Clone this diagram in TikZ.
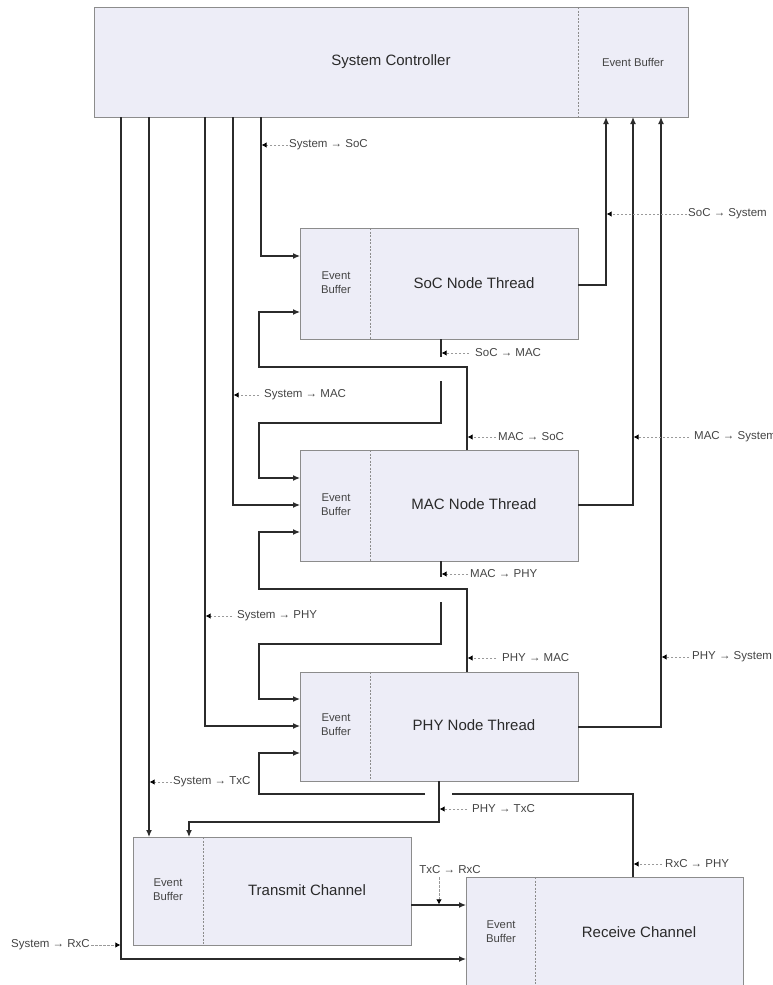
\documentclass[tikz,border=0pt]{standalone}
\usepackage{fontspec}
\setmainfont{Liberation Sans}
\usetikzlibrary{arrows.meta}
\definecolor{boxfill}{HTML}{EDEDF7}
\definecolor{boxline}{HTML}{8C8C8C}
\definecolor{wire}{HTML}{2B2B2B}
\definecolor{leadc}{HTML}{9A9A9A}
\definecolor{txt}{HTML}{2A2A2A}
\definecolor{lbl}{HTML}{444444}
\begin{document}
\begin{tikzpicture}[x=1pt,y=-1pt,
 block/.style={draw=boxline, fill=boxfill, line width=0.8pt, anchor=north west, inner sep=0pt, outer sep=0pt},
 divider/.style={draw=boxline, line width=0.7pt, dash pattern=on 2pt off 1.5pt},
 title/.style={font=\fontsize{15}{18}\selectfont, text=txt, inner sep=0pt},
 buf/.style={font=\fontsize{11.3}{14}\selectfont, text=lbl, align=center, inner sep=0pt},
 wirestyle/.style={draw=wire, line width=1.2pt, -{Latex[length=7pt,width=6pt]}},
 tag/.style={font=\fontsize{11.5}{13}\selectfont, text=lbl, inner sep=0pt},
 leader/.style={draw=leadc, line width=0.8pt, dash pattern=on 2.5pt off 1.5pt, -{Latex[length=5pt,width=5.5pt,color=black]}}
]
\useasboundingbox (0,0) rectangle (772,985);
\fill[white] (0,0) rectangle (772,985);
\clip (0,0) rectangle (772,985);

% column coordinates
\coordinate (cA) at (261,0);
\coordinate (cB) at (233,0);
\coordinate (cC) at (205,0);
\coordinate (cD) at (149,0);
\coordinate (cE) at (121,0);
\coordinate (cF) at (189,0);
\coordinate (cR1) at (606,0);
\coordinate (cR2) at (633,0);
\coordinate (cR3) at (661,0);
\coordinate (cM1) at (441,0);
\coordinate (cM2) at (467,0);
\coordinate (cP) at (439,0);

% blocks
\node[block, minimum width=594pt, minimum height=110pt] (sys) at (94,7) {};
\node[block, minimum width=278pt, minimum height=111pt] (soc) at (300,228) {};
\node[block, minimum width=278pt, minimum height=111pt] (mac) at (300,450) {};
\node[block, minimum width=278pt, minimum height=109pt] (phy) at (300,672) {};
\node[block, minimum width=278pt, minimum height=108pt] (txc) at (133,837) {};
\node[block, minimum width=277pt, minimum height=130pt] (rxc) at (466,877) {};

% dividers
\draw[divider] ([xshift=484pt]sys.north west) -- ([xshift=484pt]sys.south west);
\draw[divider] ([xshift=70pt]soc.north west) -- ([xshift=70pt]soc.south west);
\draw[divider] ([xshift=70pt]mac.north west) -- ([xshift=70pt]mac.south west);
\draw[divider] ([xshift=70pt]phy.north west) -- ([xshift=70pt]phy.south west);
\draw[divider] ([xshift=70pt]txc.north west) -- ([xshift=70pt]txc.south west);
\draw[divider] ([xshift=69pt]rxc.north west) -- ([xshift=69pt]rxc.south west);

% block texts
\node[title] (sysT) at (391,62) {System Controller};
\node[buf] (sysB) at (633,62) {Event Buffer};
\node[title] (socT) at (474,283) {SoC Node Thread};
\node[buf] (socB) at (336,283) {Event\\Buffer};
\node[title] (macT) at (474,504) {MAC Node Thread};
\node[buf] (macB) at (336,505) {Event\\Buffer};
\node[title] (phyT) at (474,725) {PHY Node Thread};
\node[buf] (phyB) at (336,725) {Event\\Buffer};
\node[title] (txcT) at (307,890) {Transmit Channel};
\node[buf] (txcB) at (168,890) {Event\\Buffer};
\node[title] (rxcT) at (639,932) {Receive Channel};
\node[buf] (rxcB) at (501,932) {Event\\Buffer};

% connectors from the system controller
\draw[wirestyle] (cA |- sys.south) |- (soc.west |- 0,256);
\draw[wirestyle] (cB |- sys.south) |- (mac.west |- 0,505);
\draw[wirestyle] (cC |- sys.south) |- (phy.west |- 0,726);
\draw[wirestyle] (cD |- sys.south) -- (cD |- txc.north);
\draw[wirestyle] (cE |- sys.south) |- (rxc.west |- 0,959);
% connectors to the system controller
\draw[wirestyle] (soc.east |- 0,285) -| (cR1 |- sys.south);
\draw[wirestyle] (mac.east |- 0,505) -| (cR2 |- sys.south);
\draw[wirestyle] (phy.east |- 0,727) -| (cR3 |- sys.south);
% thread to thread
\draw[wirestyle] (cM1 |- soc.south) -- (441,357) (441,381) -- (441,423) -| (259,478) -- (mac.west |- 0,478);
\draw[wirestyle] (cM2 |- mac.north) -- (467,367) -| (259,312) -- (soc.west |- 0,312);
\draw[wirestyle] (cM1 |- mac.south) -- (441,577) (441,602) -- (441,644) -| (259,699) -- (phy.west |- 0,699);
\draw[wirestyle] (cM2 |- phy.north) -- (467,589) -| (259,532) -- (mac.west |- 0,532);
\draw[wirestyle] (cP |- phy.south) -- (439,822) -| (cF |- txc.north);
\draw[wirestyle] (cR2 |- rxc.north) -- (633,794) -- (452,794) (425,794) -| (259,753) -- (phy.west |- 0,753);
\draw[wirestyle] (txc.east |- 0,905) -- (rxc.west |- 0,905);

% labels with leaders
\node[tag, anchor=west] (t1) at (289,145) {System → SoC};
\draw[leader] ([xshift=-1pt]t1.west) -- ([xshift=0.6pt]cA |- t1.west);
\node[tag, anchor=west] (t2) at (688,214) {SoC → System};
\draw[leader] ([xshift=-1pt]t2.west) -- ([xshift=0.6pt]cR1 |- t2.west);
\node[tag, anchor=west] (t3) at (475,353) {SoC → MAC};
\draw[leader] ([xshift=-6pt]t3.west) -- ([xshift=0.6pt]cM1 |- t3.west);
\node[tag, anchor=west] (t4) at (264,395) {System → MAC};
\draw[leader] ([xshift=-5pt]t4.west) -- ([xshift=0.6pt]cB |- t4.west);
\node[tag, anchor=west] (t5) at (498,437) {MAC → SoC};
\draw[leader] ([xshift=-2pt]t5.west) -- ([xshift=0.6pt]cM2 |- t5.west);
\node[tag, anchor=west] (t6) at (694,437) {MAC → System};
\draw[leader] ([xshift=-5pt]t6.west) -- ([xshift=0.6pt]cR2 |- t6.west);
\node[tag, anchor=west] (t7) at (470,574) {MAC → PHY};
\draw[leader] ([xshift=-2pt]t7.west) -- ([xshift=0.6pt]cM1 |- t7.west);
\node[tag, anchor=west] (t8) at (237,616) {System → PHY};
\draw[leader] ([xshift=-5pt]t8.west) -- ([xshift=0.6pt]cC |- t8.west);
\node[tag, anchor=west] (t9) at (502,658) {PHY → MAC};
\draw[leader] ([xshift=-6pt]t9.west) -- ([xshift=0.6pt]cM2 |- t9.west);
\node[tag, anchor=west] (t10) at (692,657) {PHY → System};
\draw[leader] ([xshift=-3pt]t10.west) -- ([xshift=0.6pt]cR3 |- t10.west);
\node[tag, anchor=west] (t11) at (173,782) {System → TxC};
\draw[leader] ([xshift=-1pt]t11.west) -- ([xshift=0.6pt]cD |- t11.west);
\node[tag, anchor=west] (t12) at (472,809) {PHY → TxC};
\draw[leader] ([xshift=-5pt]t12.west) -- ([xshift=0.6pt]cP |- t12.west);
\node[tag, anchor=west] (t13) at (665,864) {RxC → PHY};
\draw[leader] ([xshift=-3pt]t13.west) -- ([xshift=0.6pt]cR2 |- t13.west);
\node[tag] (t14) at (450,870) {TxC → RxC};
\draw[leader] ([yshift=-3pt]cP |- t14.south) -- ([yshift=0.6pt]cP |- 0,905);
\node[tag, anchor=east] (t15) at (90,945) {System → RxC};
\draw[leader] ([xshift=1pt]t15.east) -- ([xshift=-0.6pt]cE |- t15.east);
\end{tikzpicture}
\end{document}
